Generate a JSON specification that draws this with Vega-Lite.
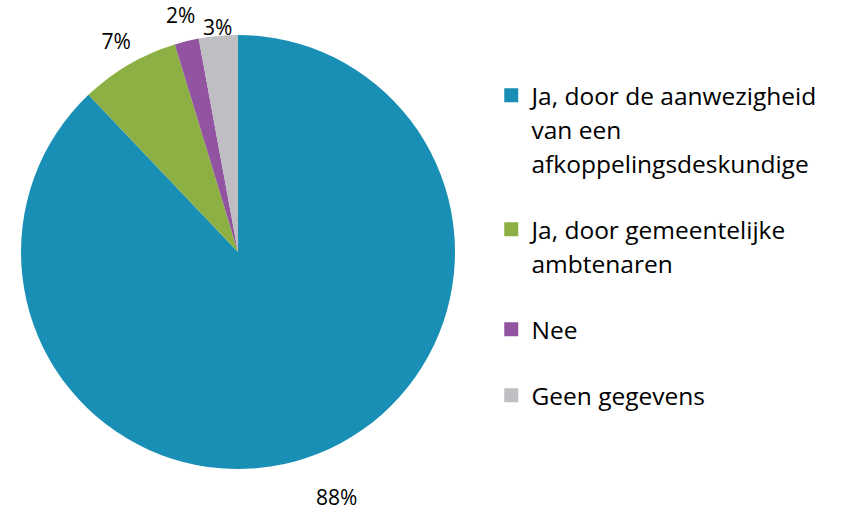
{
  "$schema": "https://vega.github.io/schema/vega-lite/v6.json",
  "width": 476,
  "height": 504,
  "padding": {"left": 0, "top": 0, "right": 0, "bottom": 0},
  "autosize": {"type": "pad"},
  "background": "white",
  "config": {"view": {"stroke": null}, "font": "Open Sans"},
  "data": {
    "values": [
      {"cat": "Ja, door de aanwezigheid van een afkoppelingsdeskundige", "pct": 87.9, "ord": 1, "label": "88%"},
      {"cat": "Ja, door gemeentelijke ambtenaren", "pct": 7.4, "ord": 2, "label": "7%"},
      {"cat": "Nee", "pct": 1.8, "ord": 3, "label": "2%"},
      {"cat": "Geen gegevens", "pct": 2.9, "ord": 4, "label": "3%"}
    ]
  },
  "encoding": {
    "theta": {"field": "pct", "type": "quantitative", "stack": true},
    "order": {"field": "ord", "type": "quantitative"}
  },
  "layer": [
    {
      "mark": {"type": "arc", "outerRadius": 217},
      "encoding": {
        "color": {
          "field": "cat",
          "type": "nominal",
          "sort": ["Ja, door de aanwezigheid van een afkoppelingsdeskundige", "Ja, door gemeentelijke ambtenaren", "Nee", "Geen gegevens"],
          "scale": {
            "domain": ["Ja, door de aanwezigheid van een afkoppelingsdeskundige", "Ja, door gemeentelijke ambtenaren", "Nee", "Geen gegevens"],
            "range": ["#1A8FB5", "#8DB044", "#9254A0", "#BEBEC3"]
          },
          "legend": {
            "title": null,
            "orient": "none",
            "legendX": 499,
            "legendY": 83,
            "symbolType": "square",
            "symbolSize": 196,
            "symbolStrokeWidth": 0,
            "labelFont": "Open Sans",
            "labelFontSize": 24.5,
            "labelColor": "#000000",
            "labelLimit": 0,
            "labelOffset": 8,
            "labelBaseline": "top",
            "rowPadding": 39,
            "encode": {"labels": {"update": {"lineHeight": {"value": 34}, "dy": {"value": -9}}}},
            "labelExpr": "datum.label == 'Ja, door de aanwezigheid van een afkoppelingsdeskundige' ? ['Ja, door de aanwezigheid', 'van een', 'afkoppelingsdeskundige'] : datum.label == 'Ja, door gemeentelijke ambtenaren' ? ['Ja, door gemeentelijke', 'ambtenaren'] : datum.label"
          }
        }
      }
    },
    {
      "mark": {
        "type": "text",
        "fontSize": 21,
        "font": "Open Sans",
        "color": "#000000",
        "radius": {"expr": "datum.ord == 1 ? 266 : datum.ord == 4 ? 224 : 242"}
      },
      "encoding": {
        "text": {"field": "label", "type": "nominal"}
      }
    }
  ]
}
